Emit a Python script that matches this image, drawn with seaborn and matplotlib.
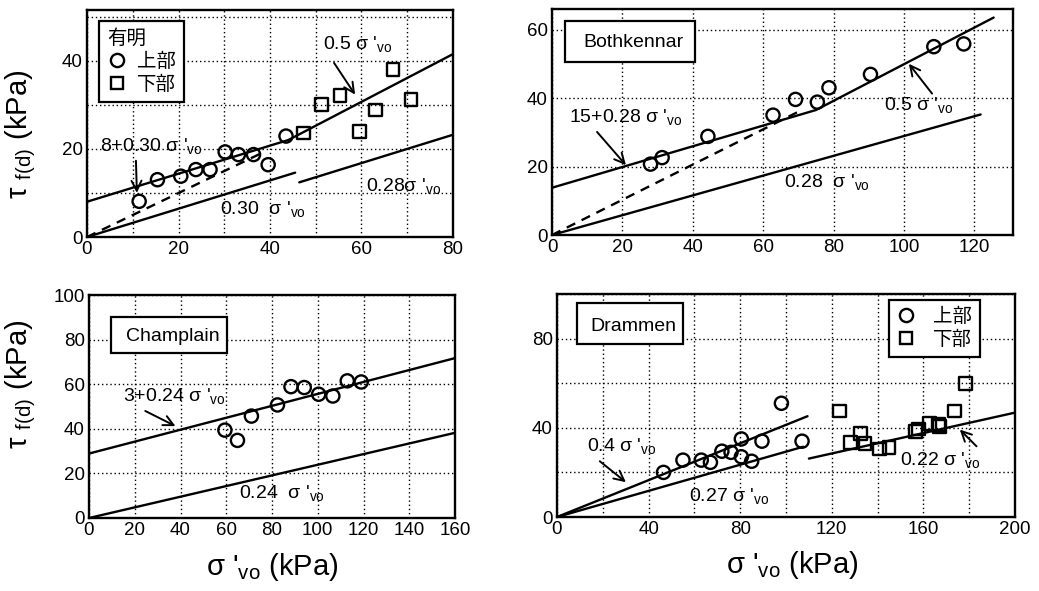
import numpy as np
import pandas as pd
import matplotlib
matplotlib.use("Agg")
import matplotlib.pyplot as plt
import seaborn as sns
from matplotlib.lines import Line2D
from matplotlib.patches import Rectangle

# ---------------- data ----------------
# Ariake (有明)
ariake_upper_x = [11.4, 15.4, 20.5, 23.8, 26.9, 30.2, 33.1, 36.4, 39.6, 43.5]
ariake_upper_y = [8.1, 13.0, 13.8, 15.3, 15.3, 19.3, 18.7, 18.7, 16.4, 22.9]
ariake_lower_x = [47.3, 51.3, 55.3, 59.5, 63.0, 66.9, 70.8]
ariake_lower_y = [23.6, 30.1, 32.1, 24.0, 28.8, 38.0, 31.2]
ariake_fit_x = [0, 44, 80]
ariake_fit_y = [8.0, 22.0, 41.5]
ariake_dash_x = [0, 38.5]
ariake_dash_y = [0, 19.2]
ariake_030_x = [0, 45.5]
ariake_030_y = [0, 14.6]
ariake_028_x = [46.4, 80]
ariake_028_y = [12.4, 23.2]

# Bothkennar
both_x = [28.0, 31.3, 44.3, 62.8, 69.2, 75.4, 78.7, 90.5, 108.5, 117.0]
both_y = [20.7, 22.6, 28.8, 35.0, 39.6, 38.8, 43.0, 46.9, 55.0, 55.8]
both_fit_x = [0, 75, 125.5]
both_fit_y = [13.8, 36.5, 63.5]
both_dash_x = [0, 70]
both_dash_y = [0, 36.0]
both_028_x = [0, 121.8]
both_028_y = [0, 35.2]

# Champlain
cham_x = [59.4, 64.9, 71.0, 82.4, 88.3, 94.1, 100.4, 106.6, 112.9, 119.0]
cham_y = [39.4, 34.8, 45.7, 50.7, 58.9, 58.5, 55.5, 54.7, 61.5, 61.0]
cham_fit_x = [0, 160]
cham_fit_y = [28.9, 71.7]
cham_024_x = [0, 160]
cham_024_y = [0, 38.2]

# Drammen
dram_upper_x = [46.5, 55, 63, 67, 72, 76, 80.5, 80.5, 85, 89.5, 98, 107]
dram_upper_y = [20, 25.5, 25.5, 24.5, 29.5, 29, 35, 27, 25, 34, 51, 34]
dram_lower_x = [123.5, 128, 132.5, 134.5, 141, 145, 156.5, 158, 162.5, 166.5, 167, 173.5, 178.5]
dram_lower_y = [47.5, 33.5, 37.5, 33, 30.5, 31, 38.5, 39.5, 42, 41.5, 40.5, 47.5, 60]
dram_040_x = [0, 109.4]
dram_040_y = [0, 45.2]
dram_027_x = [0, 107.5]
dram_027_y = [0, 31.5]
dram_022_x = [110, 200]
dram_022_y = [26.2, 46.8]

legend_upper = "上部"
legend_lower = "下部"
legend_title = "有明"

# ---------------- style ----------------
sns.set_theme(style="white")
plt.rcParams["font.family"] = ["Liberation Sans", "Noto Sans CJK JP"]
plt.rcParams["mathtext.fontset"] = "custom"
plt.rcParams["mathtext.rm"] = "Liberation Sans"
plt.rcParams["mathtext.it"] = "Liberation Sans:italic"
plt.rcParams["mathtext.default"] = "regular"
plt.rcParams["text.color"] = "black"
plt.rcParams["axes.labelcolor"] = "black"
plt.rcParams["legend.labelcolor"] = "black"

TICK_FS = 13.5
ANN_FS = 14
BOX_FS = 14
LAB_FS = 21
LW = 1.7

fig = plt.figure(figsize=(10.39, 5.91), dpi=100)
W, H = 1039, 591


def add_axes(l, r, t, b):
    return fig.add_axes([l / W, 1 - b / H, (r - l) / W, (b - t) / H])


ax1 = add_axes(87, 453, 10, 237)
ax2 = add_axes(552, 1013, 9, 235)
ax3 = add_axes(89, 455, 295, 518)
ax4 = add_axes(557, 1015, 294, 517)


def style(ax, xlim, ylim, xt, yt, xg, yg):
    ax.set_xlim(*xlim)
    ax.set_ylim(*ylim)
    ax.set_xticks(xt)
    ax.set_yticks(yt)
    ax.set_xticks(xg, minor=True)
    ax.set_yticks(yg, minor=True)
    ax.grid(which="both", linestyle=(0, (1, 2)), color="black", lw=1.0)
    ax.tick_params(which="both", length=0, labelsize=TICK_FS, pad=3, colors="black")
    for s in ax.spines.values():
        s.set_color("black")
        s.set_linewidth(LW)
    ax.set_xlabel("")
    ax.set_ylabel("")
    ax.set_axisbelow(True)


def sline(ax, x, y, ls="-"):
    sns.lineplot(x=x, y=y, ax=ax, color="black", lw=LW, linestyle=ls,
                 sort=False, estimator=None)


def pts(ax, x, y, marker, s):
    sns.scatterplot(x=x, y=y, ax=ax, marker=marker, s=s, facecolor="none",
                    edgecolor="black", linewidth=1.7, legend=False, zorder=5)


def arrow(ax, tail, tip):
    ax.annotate("", xy=tip, xytext=tail,
                arrowprops=dict(arrowstyle="->", lw=1.4, color="black",
                                mutation_scale=18, shrinkA=0, shrinkB=0))


def sig(prefix):
    return prefix + "σ '$_{\\mathrm{vo}}$"


def boxlabel(ax, x0, y0, x1, y1, tx, ty, text):
    ax.add_patch(Rectangle((x0, y1), x1 - x0, y0 - y1, transform=ax.transAxes,
                           fill=True, fc="white", ec="black", lw=1.6, zorder=6))
    ax.text(tx, ty, text, transform=ax.transAxes, fontsize=BOX_FS,
            va="center", ha="left", zorder=7)


def mk_legend(ax, anchor, loc, title=None, tpad=0.9):
    h = [Line2D([], [], marker="o", ls="none", mfc="none", mec="black", ms=9.5, mew=1.7),
         Line2D([], [], marker="s", ls="none", mfc="none", mec="black", ms=9.0, mew=1.7)]
    leg = ax.legend(h, [legend_upper, legend_lower], loc=loc, bbox_to_anchor=anchor,
                    fontsize=BOX_FS, title=title, title_fontsize=BOX_FS,
                    frameon=True, fancybox=False, framealpha=1, edgecolor="black",
                    handlelength=1.0, handletextpad=tpad, borderpad=0.4,
                    labelspacing=0.25, borderaxespad=0, alignment="left")
    leg.get_frame().set_linewidth(1.6)
    leg.get_title().set_color("black")
    leg.set_zorder(8)
    return leg


# ---------------- panel 1 : Ariake ----------------
style(ax1, (0, 80), (0, 51.5), range(0, 81, 20), [0, 20, 40],
      range(0, 81, 10), range(0, 51, 10))
sline(ax1, ariake_fit_x, ariake_fit_y)
sline(ax1, ariake_dash_x, ariake_dash_y, ls=(0, (4, 3)))
sline(ax1, ariake_030_x, ariake_030_y)
sline(ax1, ariake_028_x, ariake_028_y)
pts(ax1, ariake_upper_x, ariake_upper_y, "o", 90)
pts(ax1, ariake_lower_x, ariake_lower_y, "s", 85)
ax1.text(51.5, 43.8, sig("0.5 "), fontsize=ANN_FS, va="center")
arrow(ax1, (54.0, 39.5), (58.6, 32.3))
ax1.text(2.8, 20.6, sig("8+0.30 "), fontsize=ANN_FS, va="center")
arrow(ax1, (10.7, 17.3), (10.9, 10.0))
ax1.text(29.0, 6.3, sig("0.30  "), fontsize=ANN_FS, va="center")
ax1.text(61.0, 11.5, sig("0.28"), fontsize=ANN_FS, va="center")
mk_legend(ax1, (0.033, 0.951), "upper left", title=legend_title, tpad=0.55)
ax1.set_ylabel("τ $_{\\mathrm{f(d)}}$ (kPa)", fontsize=LAB_FS)
ax1.yaxis.set_label_coords(-0.135, 0.454)

# ---------------- panel 2 : Bothkennar ----------------
style(ax2, (0, 131), (0, 66), range(0, 121, 20), [0, 20, 40, 60],
      range(0, 121, 20), range(0, 61, 20))
sline(ax2, both_fit_x, both_fit_y)
sline(ax2, both_dash_x, both_dash_y, ls=(0, (4, 3)))
sline(ax2, both_028_x, both_028_y)
pts(ax2, both_x, both_y, "o", 90)
boxlabel(ax2, 0.029, 0.948, 0.311, 0.767, 0.0686, 0.851, "Bothkennar")
ax2.text(4.7, 34.6, sig("15+0.28 "), fontsize=ANN_FS, va="center")
arrow(ax2, (12.8, 30.1), (21.0, 20.4))
ax2.text(94.3, 37.9, sig("0.5 "), fontsize=ANN_FS, va="center")
arrow(ax2, (108.0, 41.3), (101.4, 50.0))
ax2.text(66.0, 15.5, sig("0.28  "), fontsize=ANN_FS, va="center")

# ---------------- panel 3 : Champlain ----------------
style(ax3, (0, 160), (0, 100), range(0, 161, 20), range(0, 101, 20),
      range(0, 161, 20), range(0, 101, 20))
sline(ax3, cham_fit_x, cham_fit_y)
sline(ax3, cham_024_x, cham_024_y)
pts(ax3, cham_x, cham_y, "o", 90)
boxlabel(ax3, 0.059, 0.900, 0.378, 0.739, 0.102, 0.813, "Champlain")
ax3.text(15.0, 54.7, sig("3+0.24 "), fontsize=ANN_FS, va="center")
arrow(ax3, (24.6, 48.0), (37.8, 41.2))
ax3.text(65.6, 11.2, sig("0.24  "), fontsize=ANN_FS, va="center")
ax3.set_ylabel("τ $_{\\mathrm{f(d)}}$ (kPa)", fontsize=LAB_FS)
ax3.yaxis.set_label_coords(-0.140, 0.601)
ax3.set_xlabel("σ '$_{\\mathrm{vo}}$ (kPa)", fontsize=LAB_FS)
ax3.xaxis.set_label_coords(0.5, -0.150)

# ---------------- panel 4 : Drammen ----------------
style(ax4, (0, 200), (0, 100), range(0, 201, 40), [0, 40, 80],
      range(0, 201, 20), range(0, 101, 20))
sline(ax4, dram_040_x, dram_040_y)
sline(ax4, dram_027_x, dram_027_y)
sline(ax4, dram_022_x, dram_022_y)
pts(ax4, dram_upper_x, dram_upper_y, "o", 90)
pts(ax4, dram_lower_x, dram_lower_y, "s", 85)
boxlabel(ax4, 0.044, 0.958, 0.276, 0.776, 0.073, 0.853, "Drammen")
mk_legend(ax4, (0.924, 0.973), "upper right")
ax4.text(13.0, 31.7, sig("0.4 "), fontsize=ANN_FS, va="center")
arrow(ax4, (18.7, 25.0), (30.1, 15.6))
ax4.text(57.5, 9.3, sig("0.27 "), fontsize=ANN_FS, va="center")
ax4.text(150.0, 25.7, sig("0.22 "), fontsize=ANN_FS, va="center")
arrow(ax4, (183.2, 31.7), (175.9, 39.2))
ax4.set_xlabel("σ '$_{\\mathrm{vo}}$ (kPa)", fontsize=LAB_FS)
ax4.xaxis.set_label_coords(0.513, -0.145)

fig.savefig("out.png", dpi=100, facecolor="white")
